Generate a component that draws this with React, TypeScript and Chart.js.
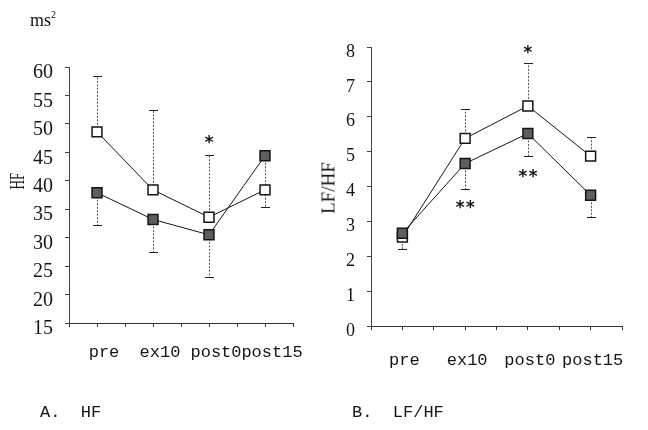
import React, { useEffect, useRef } from 'react';
import { Chart, registerables } from 'chart.js';

Chart.register(...registerables);

// Measurement points
const categories = ['pre', 'ex10', 'post0', 'post15'];

// Panel A: HF (ms²)
const hfOpen = [48.6, 38.4, 33.6, 38.4];
const hfFilled = [37.9, 33.2, 30.5, 44.4];
const hfOpenBarEnd = [58.5, 52.4, 44.5, null];
const hfFilledBarEnd = [32.2, 27.4, 23.1, 35.4];
const hfMarkIndex = [2];
const hfMarkValue = [47.2];
const hfMarkText = ['*'];

// Panel B: LF/HF
const lfhfOpen = [2.55, 5.38, 6.31, 4.87];
const lfhfFilled = [2.66, 4.66, 5.52, 3.75];
const lfhfOpenBarEnd = [null, 6.22, 7.54, 5.41];
const lfhfFilledBarEnd = [2.2, 3.92, 4.87, 3.12];
const lfhfMarkIndex = [2, 1, 2];
const lfhfMarkValue = [7.94, 3.47, 4.36];
const lfhfMarkText = ['*', '**', '**'];

const INK = '#151515';

// Vertical SD whiskers, drawn beneath the markers
const errorBars = {
  id: 'errorBars',
  beforeDatasetsDraw(chart: any) {
    const { ctx, scales } = chart;
    const x = scales.x;
    const y = scales.y;
    ctx.save();
    chart.data.datasets.forEach((ds: any) => {
      const ends = ds.barEnds;
      if (!ends) return;
      ds.data.forEach((p: any, i: number) => {
        const end = ends[i];
        if (end == null) return;
        const px = Math.round(x.getPixelForValue(p.x)) + 0.5;
        const y0 = y.getPixelForValue(p.y);
        const y1 = Math.round(y.getPixelForValue(end)) + 0.5;
        ctx.lineWidth = 1;
        ctx.strokeStyle = '#555';
        ctx.setLineDash([2, 1.5]);
        ctx.beginPath();
        ctx.moveTo(px, y0);
        ctx.lineTo(px, y1);
        ctx.stroke();
        ctx.setLineDash([]);
        ctx.strokeStyle = '#222';
        ctx.beginPath();
        ctx.moveTo(px - 4.5, y1);
        ctx.lineTo(px + 4.5, y1);
        ctx.stroke();
      });
    });
    ctx.restore();
  },
};

// Significance asterisks placed in data coordinates
const sigMarks = {
  id: 'sigMarks',
  afterDatasetsDraw(chart: any, _args: any, opts: any) {
    const { ctx, scales } = chart;
    const idx: number[] = opts.index || [];
    ctx.save();
    ctx.fillStyle = INK;
    ctx.font = 'bold 17px "DejaVu Sans Mono"';
    ctx.textAlign = 'center';
    ctx.textBaseline = 'alphabetic';
    idx.forEach((ci, k) => {
      const text = opts.text[k];
      const px = scales.x.getPixelForValue(ci);
      const py = scales.y.getPixelForValue(opts.value[k]);
      const m = ctx.measureText(text);
      const asc = m.actualBoundingBoxAscent;
      const desc = m.actualBoundingBoxDescent;
      ctx.fillText(text, px, py + (asc - desc) / 2);
    });
    ctx.restore();
  },
};

type PanelProps = {
  width: number;
  height: number;
  area: { left: number; top: number; right: number; bottom: number };
  yMin: number;
  yMax: number;
  yStep: number;
  yFont: number;
  open: number[];
  filled: number[];
  openEnds: (number | null)[];
  filledEnds: (number | null)[];
  markIndex: number[];
  markValue: number[];
  markText: string[];
  xPad: number;
  xLabelOffset: number;
  yLabelOffset: number;
};

function Panel(props: PanelProps) {
  const ref = useRef<HTMLCanvasElement | null>(null);

  useEffect(() => {
    const canvas = ref.current;
    if (!canvas) return;
    const { width, height, area } = props;
    const xAxisHeight = 60;
    const toPoints = (arr: number[]) => arr.map((v, i) => ({ x: i, y: v }));

    const chart = new Chart(canvas, {
      type: 'line',
      data: {
        datasets: [
          {
            label: 'filled',
            data: toPoints(props.filled),
            barEnds: props.filledEnds,
            borderColor: INK,
            borderWidth: 1,
            tension: 0,
            fill: false,
            pointStyle: 'rect',
            pointRadius: 7,
            pointBackgroundColor: '#5e5e5e',
            pointBorderColor: INK,
            pointBorderWidth: 1.5,
          } as any,
          {
            label: 'open',
            data: toPoints(props.open),
            barEnds: props.openEnds,
            borderColor: INK,
            borderWidth: 1,
            tension: 0,
            fill: false,
            pointStyle: 'rect',
            pointRadius: 7,
            pointBackgroundColor: '#ffffff',
            pointBorderColor: INK,
            pointBorderWidth: 1.5,
          } as any,
        ],
      },
      options: {
        animation: false,
        responsive: false,
        maintainAspectRatio: false,
        layout: {
          padding: {
            left: 0,
            top: area.top,
            right: width - area.right,
            bottom: height - area.bottom - xAxisHeight,
          },
        },
        plugins: {
          legend: { display: false },
          tooltip: { enabled: false },
          sigMarks: {
            index: props.markIndex,
            value: props.markValue,
            text: props.markText,
          },
        } as any,
        scales: {
          x: {
            type: 'linear',
            min: -0.5,
            max: 3.5,
            ticks: {
              stepSize: 0.5,
              autoSkip: false,
              maxRotation: 0,
              padding: props.xPad,
              labelOffset: props.xLabelOffset,
              color: INK,
              font: { family: '"Liberation Mono"', size: 17 },
              callback: (v: any) => {
                const n = Number(v);
                const r = Math.round(n);
                return Math.abs(n - r) < 1e-6 && r >= 0 && r < categories.length ? categories[r] : '';
              },
            },
            grid: { drawOnChartArea: false, tickLength: 4, color: '#333' },
            border: { color: '#333' },
            afterFit: (s: any) => {
              s.height = xAxisHeight;
            },
          },
          y: {
            min: props.yMin,
            max: props.yMax,
            ticks: {
              stepSize: props.yStep,
              padding: 12,
              labelOffset: props.yLabelOffset,
              color: INK,
              font: { family: '"Liberation Serif"', size: props.yFont },
            },
            grid: { drawOnChartArea: false, tickLength: 4, color: '#444' },
            border: { color: '#444' },
            afterFit: (s: any) => {
              s.width = area.left;
            },
          },
        },
      },
      plugins: [errorBars, sigMarks],
    });

    return () => chart.destroy();
  }, []);

  return (
    <canvas
      ref={ref}
      width={props.width}
      height={props.height}
      style={{ width: props.width, height: props.height, display: 'block' }}
    />
  );
}

const textBase: React.CSSProperties = {
  position: 'absolute',
  color: INK,
  whiteSpace: 'nowrap',
  lineHeight: 1,
};

export default function App() {
  return (
    <div
      style={{
        position: 'absolute',
        left: 0,
        top: 0,
        width: 648,
        height: 430,
        background: '#fff',
        overflow: 'hidden',
      }}
    >
      <div style={{ position: 'absolute', left: 0, top: 0 }}>
        <Panel
          width={320}
          height={430}
          area={{ left: 69, top: 67, right: 293, bottom: 323 }}
          yMin={15}
          yMax={60}
          yStep={5}
          yFont={20}
          open={hfOpen}
          filled={hfFilled}
          openEnds={hfOpenBarEnd}
          filledEnds={hfFilledBarEnd}
          markIndex={hfMarkIndex}
          markValue={hfMarkValue}
          markText={hfMarkText}
          xPad={15}
          xLabelOffset={7}
          yLabelOffset={6}
        />
      </div>
      <div style={{ position: 'absolute', left: 320, top: 0 }}>
        <Panel
          width={328}
          height={430}
          area={{ left: 51, top: 47, right: 302, bottom: 326 }}
          yMin={0}
          yMax={8}
          yStep={1}
          yFont={18}
          open={lfhfOpen}
          filled={lfhfFilled}
          openEnds={lfhfOpenBarEnd}
          filledEnds={lfhfFilledBarEnd}
          markIndex={lfhfMarkIndex}
          markValue={lfhfMarkValue}
          markText={lfhfMarkText}
          xPad={20}
          xLabelOffset={2}
          yLabelOffset={5}
        />
      </div>

      {/* unit label */}
      <div style={{ ...textBase, left: 30, top: 11, fontFamily: '"Liberation Serif"', fontSize: 18 }}>
        ms<span style={{ fontSize: 10, position: 'relative', top: -8 }}>2</span>
      </div>

      {/* y-axis titles */}
      <div
        style={{
          ...textBase,
          left: 17,
          top: 181,
          fontFamily: '"Liberation Serif"',
          fontSize: 22,
          transform: 'translate(-50%, -50%) rotate(-90deg) scaleX(0.6)',
        }}
      >
        HF
      </div>
      <div
        style={{
          ...textBase,
          left: 328,
          top: 188,
          fontFamily: '"Liberation Serif"',
          fontSize: 19,
          transform: 'translate(-50%, -50%) rotate(-90deg)',
        }}
      >
        LF/HF
      </div>

      {/* panel captions */}
      <div style={{ ...textBase, left: 40, top: 404, fontFamily: '"Liberation Mono"', fontSize: 17 }}>
        A.&nbsp;&nbsp;HF
      </div>
      <div style={{ ...textBase, left: 352, top: 404, fontFamily: '"Liberation Mono"', fontSize: 17 }}>
        B.&nbsp;&nbsp;LF/HF
      </div>
    </div>
  );
}
